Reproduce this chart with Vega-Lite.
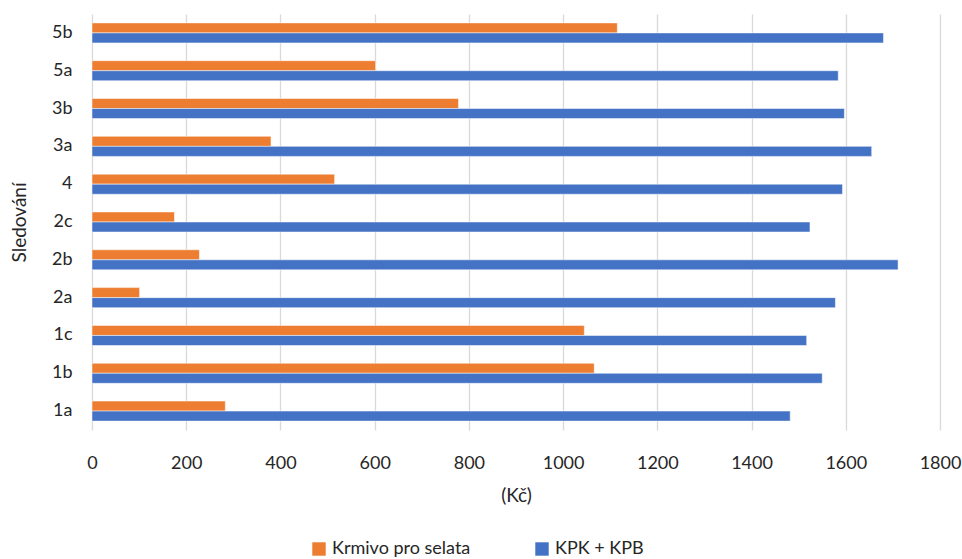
{
  "$schema": "https://vega.github.io/schema/vega-lite/v6.json",
  "autosize": "none",
  "width": 848,
  "height": 416,
  "padding": {"left": 92, "top": 14, "right": 22, "bottom": 129},
  "background": "white",
  "config": {
    "font": "Lato",
    "view": {"stroke": null}
  },
  "data": {
    "values": [
      {"s": "5b", "serie": "Krmivo pro selata", "v": 1115},
      {"s": "5b", "serie": "KPK + KPB", "v": 1680},
      {"s": "5a", "serie": "Krmivo pro selata", "v": 602},
      {"s": "5a", "serie": "KPK + KPB", "v": 1584},
      {"s": "3b", "serie": "Krmivo pro selata", "v": 778},
      {"s": "3b", "serie": "KPK + KPB", "v": 1597},
      {"s": "3a", "serie": "Krmivo pro selata", "v": 380},
      {"s": "3a", "serie": "KPK + KPB", "v": 1655},
      {"s": "4", "serie": "Krmivo pro selata", "v": 515},
      {"s": "4", "serie": "KPK + KPB", "v": 1593},
      {"s": "2c", "serie": "Krmivo pro selata", "v": 175},
      {"s": "2c", "serie": "KPK + KPB", "v": 1524},
      {"s": "2b", "serie": "Krmivo pro selata", "v": 228},
      {"s": "2b", "serie": "KPK + KPB", "v": 1711},
      {"s": "2a", "serie": "Krmivo pro selata", "v": 101},
      {"s": "2a", "serie": "KPK + KPB", "v": 1578},
      {"s": "1c", "serie": "Krmivo pro selata", "v": 1045},
      {"s": "1c", "serie": "KPK + KPB", "v": 1517},
      {"s": "1b", "serie": "Krmivo pro selata", "v": 1066},
      {"s": "1b", "serie": "KPK + KPB", "v": 1550},
      {"s": "1a", "serie": "Krmivo pro selata", "v": 283},
      {"s": "1a", "serie": "KPK + KPB", "v": 1482}
    ]
  },
  "mark": {"type": "bar", "stroke": "white", "strokeWidth": 0.5},
  "encoding": {
    "y": {
      "field": "s",
      "type": "nominal",
      "sort": ["5b", "5a", "3b", "3a", "4", "2c", "2b", "2a", "1c", "1b", "1a"],
      "scale": {"paddingInner": 0.47, "paddingOuter": 0.235},
      "axis": {
        "title": "Sledování",
        "titleFont": "Lato",
        "titleFontSize": 19,
        "titleFontWeight": "normal",
        "titleColor": "#262626",
        "titlePadding": 22,
        "labelFontSize": 18,
        "labelColor": "#262626",
        "labelPadding": 20,
        "ticks": false,
        "domain": false,
        "grid": false
      }
    },
    "yOffset": {
      "field": "serie",
      "type": "nominal",
      "sort": ["Krmivo pro selata", "KPK + KPB"],
      "scale": {"domain": ["Krmivo pro selata", "KPK + KPB"]}
    },
    "x": {
      "field": "v",
      "type": "quantitative",
      "scale": {"domain": [0, 1800], "nice": false},
      "axis": {
        "title": "(Kč)",
        "titleFontSize": 19,
        "titleFontWeight": "normal",
        "titleColor": "#262626",
        "titlePadding": 14,
        "values": [0, 200, 400, 600, 800, 1000, 1200, 1400, 1600, 1800],
        "format": "d",
        "labelFlush": false,
        "labelFontSize": 18,
        "labelColor": "#262626",
        "labelPadding": 24,
        "ticks": false,
        "domain": false,
        "grid": true,
        "gridColor": "#d9d9d9",
        "gridWidth": 1.3
      }
    },
    "color": {
      "field": "serie",
      "type": "nominal",
      "scale": {"domain": ["Krmivo pro selata", "KPK + KPB"], "range": ["#ED7D31", "#4472C4"]},
      "legend": {
        "title": null,
        "orient": "none",
        "direction": "horizontal",
        "legendX": 218,
        "legendY": 526,
        "symbolType": "square",
        "symbolSize": 180,
        "symbolStrokeWidth": 0,
        "labelFontSize": 18,
        "labelColor": "#262626",
        "columnPadding": 62,
        "labelOffset": 4
      }
    }
  }
}
